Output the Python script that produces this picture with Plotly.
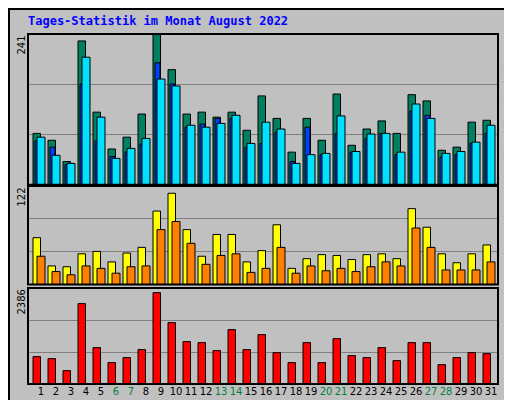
import plotly.graph_objects as go

days = list(range(1, 32))
weekend = [6, 7, 13, 14, 20, 21, 27, 28]

anfragen = [82, 71, 37, 230, 116, 57, 76, 113, 240, 184, 113, 116, 108, 116, 87, 142,
            106, 52, 106, 71, 145, 63, 89, 102, 82, 144, 134, 55, 60, 100, 103]
dateien = [70, 60, 32, 161, 70, 45, 52, 65, 195, 161, 92, 97, 106, 106, 60, 66,
           84, 37, 92, 48, 82, 52, 74, 82, 48, 118, 111, 44, 48, 66, 82]
seiten = [76, 47, 34, 204, 108, 42, 58, 74, 169, 158, 95, 92, 98, 111, 66, 100,
          89, 34, 48, 50, 110, 53, 81, 82, 52, 129, 106, 50, 53, 68, 95]
besuche = [58, 23, 22, 38, 41, 28, 39, 46, 91, 113, 68, 35, 62, 62, 28, 42,
           74, 20, 32, 37, 36, 31, 37, 38, 32, 94, 71, 38, 27, 38, 49]
rechner = [35, 16, 12, 23, 20, 14, 22, 23, 68, 78, 51, 25, 36, 38, 15, 20,
           46, 14, 23, 17, 20, 16, 22, 28, 23, 70, 46, 18, 18, 18, 28]
kb_f = [681, 631, 333, 1998, 905, 532, 656, 855, 2271, 1526, 1054, 1029, 830, 1352, 855, 1228,
        780, 532, 1029, 532, 1128, 706, 656, 905, 581, 1029, 1029, 482, 656, 780, 755]

max_top, max_mid, max_bot = 241, 122, 2386

u = 1 / 15  # one pixel in day units
fig = go.Figure()


def bar(y, color, off, w, axis):
    fig.add_trace(go.Bar(
        x=days, y=y, offset=off * u, width=w * u, marker_color=color,
        marker_line_color="black", marker_line_width=1, yaxis=axis, showlegend=False,
    ))


bar(anfragen, "#008060", -8, 7.5, "y3")
bar(dateien, "#0040ff", -6, 5, "y3")
bar(seiten, "#00e0ff", -4, 8, "y3")
bar(besuche, "#ffff00", -8, 7.5, "y2")
bar(rechner, "#ff8000", -4, 8, "y2")
bar(kb_f, "#ff0000", -8, 7.5, "y")

ticktext = [
    f"<span style='color:#008040'>{d}</span>" if d in weekend else str(d) for d in days
]


def yax(mx, dom):
    return dict(range=[0, mx], domain=dom, tickvals=[mx / 3, 2 * mx / 3], showticklabels=False,
                gridcolor="#808080", gridwidth=1, zeroline=False, showline=False)


fig.update_layout(
    width=512, height=400, barmode="overlay",
    margin=dict(l=20, r=22, t=25, b=24),
    paper_bgcolor="#c0c0c0", plot_bgcolor="#c0c0c0",
    font=dict(family="DejaVu Sans Mono", size=11, color="black"),
    xaxis=dict(range=[1 - 13 * u, 31 + 7 * u], tickvals=days, ticktext=ticktext, tickangle=0,
               showgrid=False, zeroline=False, ticks="",
               tickfont=dict(family="DejaVu Sans", size=10)),
    yaxis=yax(max_bot, [0, 0.2735]),
    yaxis2=yax(max_mid, [0.2835, 0.564]),
    yaxis3=yax(max_top, [0.568, 0.997]),
    title=dict(text="<b>Tages-Statistik im Monat August 2022</b>", x=20 / 512, xanchor="left",
               y=1 - 13 / 400, yanchor="middle",
               font=dict(family="DejaVu Sans Mono", size=12, color="#0000ff")),
)

# panel frames and outer frame
for y0, y1 in [(0, 0.2735), (0.2835, 0.564), (0.568, 0.997)]:
    fig.add_shape(type="rect", xref="paper", yref="paper", x0=0, x1=1, y0=y0, y1=y1,
                  line=dict(color="black", width=2))
fig.add_shape(type="rect", xref="paper", yref="paper", x0=-19 / 470, x1=1 + 21 / 470,
              y0=-23 / 351, y1=1 + 24 / 351, line=dict(color="black", width=2))

for text, ypos in [("241", 0.997), ("122", 0.564), ("2386", 0.2735)]:
    fig.add_annotation(text=text, xref="paper", yref="paper", x=-6 / 470, y=ypos, textangle=-90,
                       showarrow=False, xanchor="center", yanchor="top",
                       font=dict(family="DejaVu Sans", size=10))

fig.add_annotation(
    text="<span style='color:#ff8000'>Seiten</span>/<span style='color:#0040ff'>Dateien</span>"
         "/<span style='color:#008060'>Anfragen</span>",
    xref="paper", yref="paper", x=1 + 10 / 470, y=0.997, textangle=-90, showarrow=False,
    xanchor="center", yanchor="top", font=dict(family="DejaVu Sans Mono", size=9))
fig.add_annotation(
    text="<span style='color:#ff0000'>kB F</span> / <span style='color:#0080ff'>kB In</span>"
         " / <span style='color:#00c000'>kB Out</span> <span style='color:#ff8000'>Rechner (IP-Adressen)</span>",
    xref="paper", yref="paper", x=1 + 10 / 470, y=0, textangle=-90, showarrow=False,
    xanchor="center", yanchor="bottom", font=dict(family="DejaVu Sans Mono", size=9))

fig.write_html("out.html")
